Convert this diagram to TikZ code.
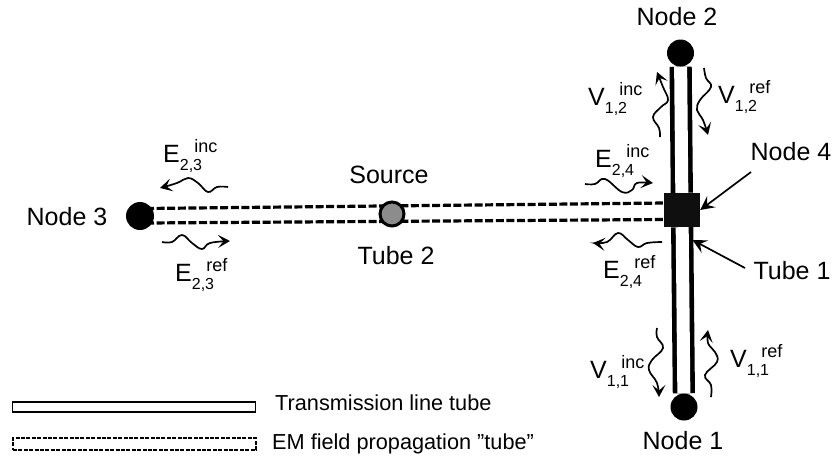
\documentclass[tikz,border=0pt]{standalone}
\usepackage{fontspec}
\setmainfont{Liberation Sans}
\usetikzlibrary{arrows.meta,backgrounds}
\newcommand{\fs}[1]{\fontsize{#1}{#1}\selectfont}
% main letter, subscript, superscript, all on one base line
\newcommand{\wavelab}[3]{\fs{25}#1\rlap{\raisebox{-8.5pt}{\fs{16}#2}}\hspace{14.5pt}\raisebox{9.5pt}{\fs{18}#3}}
\tikzset{
  x=1pt,y=-1pt,
  lab/.style={font=\fs{25},inner sep=0pt},
  wavelabel/.style={anchor=base west,inner sep=0pt},
  legendtext/.style={font=\fs{21.7},inner sep=0pt,anchor=west},
  ball/.style={circle,fill=black,inner sep=0pt,minimum size=#1},
  srcball/.style={draw=black,line width=3pt,fill=black!45,circle,inner sep=0pt,minimum size=24pt},
  square/.style={fill=black!94,inner sep=0pt,minimum width=36pt,minimum height=34pt},
  tubeone/.style={line width=4.6pt,double=white,double distance=13pt},
  tubetwo/.style={line width=3.2pt,dash pattern=on 8pt off 2.6pt},
  wave/.style={line width=1.7pt,-{Stealth[length=12pt,width=13pt,inset=5.5pt]}},
  pointer/.style={line width=1.7pt,-{Stealth[length=14pt,width=14pt,inset=5.5pt]}},
}
\begin{document}
\begin{tikzpicture}
\useasboundingbox (0,0) rectangle (833,459);
% nodes
\node[ball=27pt] (n2) at (680.5,53) {};
\node[ball=27pt] (n1) at (684,407) {};
\node[ball=28pt] (n3) at (140,216) {};
\node[srcball] (src) at (392,214) {};
\node[square] (n4) at (682,210) {};
\coordinate (t2aL) at (146,208.5);
\coordinate (t2aR) at (665,203);
\coordinate (t2bL) at (146,223);
\coordinate (t2bR) at (665,219.5);
\coordinate (tubeone) at (692.5,240);
% tubes, behind the nodes
\begin{scope}[on background layer]
\draw[tubeone] (n2) -- (n4);
\draw[tubeone] (n4) -- (n1);
\draw[tubetwo] (t2aL) -- (t2aR);
\draw[tubetwo] (t2bL) -- (t2bR);
\end{scope}
% labels
\node[lab] (ln2) at (677,17) {Node 2};
\node[lab] (ln1) at (683,441) {Node 1};
\node[lab] (ln3) at (67,217) {Node 3};
\node[lab] (ln4) at (791,152) {Node 4};
\node[lab] (lt1) at (792,271) {Tube 1};
\node[lab] (lsrc) at (389,175) {Source};
\node[lab] (lt2) at (396,256) {Tube 2};
% pointers
\coordinate (p4) at (751,172);
\coordinate (p1) at (745,268);
\draw[pointer] (p4) -- (n4.east);
\draw[pointer] (p1) -- (tubeone);
% wave labels
\node[wavelabel] (v12i) at (588,105) {\wavelab{V}{1,2}{inc}};
\node[wavelabel] (v12r) at (718,103) {\wavelab{V}{1,2}{ref}};
\node[wavelabel] (e24i) at (595,167) {\wavelab{E}{2,4}{inc}};
\node[wavelabel] (e24r) at (603,278) {\wavelab{E}{2,4}{ref}};
\node[wavelabel] (v11i) at (590,378) {\wavelab{V}{1,1}{inc}};
\node[wavelabel] (v11r) at (730,367) {\wavelab{V}{1,1}{ref}};
\node[wavelabel] (e23i) at (163,162) {\wavelab{E}{2,3}{inc}};
\node[wavelabel] (e23r) at (175,281) {\wavelab{E}{2,3}{ref}};
% wavy arrows
\draw[wave] plot[smooth,tension=0.7] coordinates {(660,137) (659,128) (653,117) (661,107) (668,100) (663,87) (657,72)};
\draw[wave] plot[smooth,tension=0.7] coordinates {(704,68) (706,78) (711,87) (700,100) (697,110) (703,120) (708,135)};
\draw[wave] plot[smooth,tension=0.7] coordinates {(585,184) (595,184) (605,179) (622,192) (632,190) (637,183) (653,183)};
\draw[wave] plot[smooth,tension=0.7] coordinates {(662,242) (647,243) (638,247) (628,240) (618,233) (607,242) (593,243)};
\draw[wave] plot[smooth,tension=0.7] coordinates {(657,328) (657,337) (663,348) (652,360) (649,370) (657,383) (659,397)};
\draw[wave] plot[smooth,tension=0.7] coordinates {(711,397) (711,385) (705,375) (717,362) (715,352) (708,343) (708,330)};
\draw[wave] plot[smooth,tension=0.7] coordinates {(228,187) (217,187) (208,192) (198,183) (188,178) (177,183) (160,188)};
\draw[wave] plot[smooth,tension=0.7] coordinates {(162,242) (172,242) (182,235) (192,243) (202,249) (210,243) (230,241)};
% legend
\node[draw=black,line width=1.4pt,minimum width=243pt,minimum height=10pt,inner sep=0pt] (lg1) at (134,407) {};
\node[draw=black,line width=1.5pt,dash pattern=on 4pt off 1.4pt,minimum width=243pt,minimum height=12pt,inner sep=0pt] (lg2) at (134.5,444) {};
\node[legendtext] (lgt1) at (275,403) {Transmission line tube};
\node[legendtext] (lgt2) at (272,444) {EM field propagation "tube"};
\end{tikzpicture}
\end{document}
